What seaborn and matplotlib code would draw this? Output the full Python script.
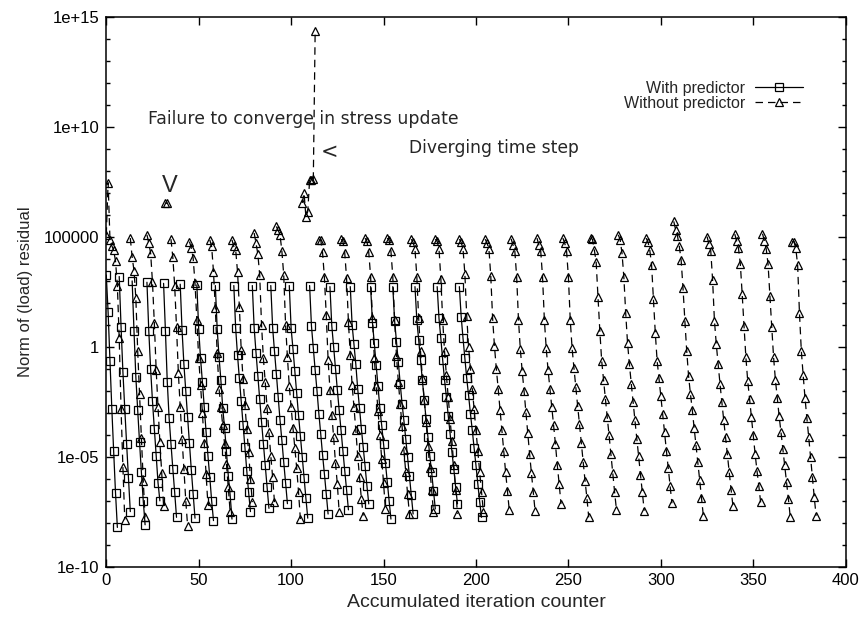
import numpy as np
import pandas as pd
import matplotlib
matplotlib.use("Agg")
import matplotlib.pyplot as plt
import seaborn as sns
from matplotlib.lines import Line2D
from matplotlib.ticker import FixedLocator, NullFormatter

# iteration counter at the start of every time step
with_starts = [0, 7, 14, 22, 31, 40, 49, 59, 69, 79, 89, 99, 110, 121, 132,
               143, 155, 167, 179, 191]
# log10 of the residual norm, one list per time step
with_log10 = [
    [3.27, 1.57, -0.64, -2.81, -4.76, -6.65, -8.22],
    [3.20, 0.91, -1.14, -2.81, -4.41, -5.96, -7.50],
    [3.00, 0.72, -1.37, -2.89, -4.34, -5.71, -7.00, -8.10],
    [2.94, 0.72, -1.02, -2.48, -3.73, -4.95, -6.19, -7.01],
    [2.89, 0.72, -1.60, -3.24, -4.41, -5.55, -6.62, -7.76],
    [2.85, 0.75, -0.80, -2.00, -3.20, -4.40, -5.60, -6.70, -7.80],
    [2.82, 0.81, -0.53, -1.60, -2.74, -3.88, -4.95, -5.94, -7.00, -7.91],
    [2.79, 0.81, -0.46, -1.52, -2.79, -3.68, -4.76, -5.86, -6.74, -7.84],
    [2.79, 0.84, -0.38, -1.44, -2.48, -3.54, -4.57, -5.63, -6.62, -7.50],
    [2.79, 0.87, -0.26, -1.32, -2.39, -3.42, -4.41, -5.40, -6.39, -7.35],
    [2.79, 0.87, -0.20, -1.22, -2.28, -3.35, -4.26, -5.25, -6.19, -7.14],
    [2.79, 0.84, -0.10, -1.10, -2.10, -3.10, -4.05, -5.00, -5.95, -6.90, -7.80],
    [2.79, 0.95, -0.05, -1.06, -2.00, -3.04, -3.95, -4.91, -5.78, -6.69, -7.61],
    [2.74, 0.95, 0.00, -0.99, -1.95, -2.89, -3.80, -4.72, -5.63, -6.51, -7.42],
    [2.74, 0.99, 0.11, -0.80, -1.90, -2.79, -3.73, -4.57, -5.43, -6.32, -7.15],
    [2.74, 1.10, 0.16, -0.84, -1.78, -2.79, -3.58, -4.41, -5.28, -6.13, -7.00, -7.84],
    [2.74, 1.17, 0.23, -0.71, -1.67, -2.58, -3.35, -4.18, -5.02, -5.89, -6.74, -7.61],
    [2.74, 1.22, 0.31, -0.61, -1.52, -2.43, -3.27, -4.11, -4.95, -5.71, -6.54, -7.38],
    [2.74, 1.29, 0.38, -0.61, -1.52, -2.28, -3.14, -3.95, -4.79, -5.55, -6.39, -7.15],
    [2.74, 1.37, 0.38, -0.53, -1.44, -2.21, -3.04, -3.80, -4.61, -5.40, -6.24, -7.05, -7.76],
]

without_starts = [0, 13, 22, 32, 35, 45, 56, 68, 80, 92, 106, 115, 127, 140, 152,
                  165, 178, 191, 205, 219, 233, 247, 262, 277, 292, 307, 325, 340,
                  355, 371]
without_log10 = [
    [5.10, 7.47, 4.87, 4.60, 4.40, 3.90, 2.79, 0.38, -2.84, -5.48, -7.86],
    [4.95, 4.08, 3.47, 2.21, -0.18, -2.16, -4.14, -6.09, -7.76],
    [5.10, 4.72, 4.26, 2.94, 1.07, -1.06, -2.74, -4.34, -5.74, -7.23],
    [6.55, 6.53],
    [4.90, 4.08, 2.79, 0.90, -1.19, -2.74, -4.20, -5.55, -7.00, -8.14],
    [4.79, 4.50, 4.04, 2.90, 1.22, -0.53, -1.75, -3.00, -4.40, -5.80, -7.20],
    [4.87, 4.57, 3.42, 1.75, -0.30, -1.90, -2.74, -3.58, -4.41, -5.32, -6.39, -7.50],
    [4.87, 4.57, 4.42, 3.42, 1.83, -0.15, -1.47, -2.66, -3.73, -4.79, -6.00, -7.07],
    [5.18, 4.72, 4.22, 3.27, 0.99, -0.53, -1.60, -2.79, -3.88, -4.95, -5.94, -7.07],
    [5.48, 5.30, 5.10, 4.35, 3.27, 1.00, -0.47, -1.79, -2.74, -3.70, -4.60, -5.50, -6.60, -7.84],
    [6.55, 7.00, 5.91, 6.16, 7.60, 7.60, 7.62, 14.36],
    [4.87, 4.87, 4.30, 3.16, 1.45, -0.58, -1.95, -3.09, -4.12, -5.29, -6.25, -7.53],
    [4.90, 4.80, 4.29, 3.12, 1.14, -0.38, -1.75, -2.74, -3.80, -4.95, -5.94, -6.92, -7.68],
    [4.95, 4.80, 4.30, 3.20, 1.30, -0.50, -1.80, -2.90, -4.00, -5.10, -6.20, -7.40],
    [4.95, 4.85, 4.35, 3.20, 1.20, -0.40, -1.60, -2.60, -3.60, -4.70, -5.70, -6.70, -7.60],
    [4.90, 4.75, 4.45, 3.20, 1.30, -0.20, -1.40, -2.40, -3.40, -4.50, -5.50, -6.50, -7.50],
    [4.90, 4.80, 4.45, 3.10, 1.20, -0.20, -1.30, -2.30, -3.30, -4.30, -5.40, -6.50, -7.60],
    [4.90, 4.75, 4.45, 3.30, 1.40, 0.00, -1.00, -1.90, -2.85, -3.80, -4.75, -5.70, -6.60, -7.50],
    [4.90, 4.72, 4.45, 3.23, 1.30, 0.03, -0.99, -1.90, -2.86, -3.78, -4.72, -5.68, -6.55, -7.43],
    [4.92, 4.64, 4.38, 3.20, 1.22, -0.12, -1.11, -2.00, -2.97, -3.91, -4.87, -5.75, -6.62, -7.49],
    [4.95, 4.64, 4.38, 3.20, 1.22, -0.07, -1.06, -1.90, -2.74, -3.58, -4.44, -5.40, -6.24, -7.15],
    [4.95, 4.72, 4.38, 3.17, 1.22, -0.07, -0.96, -1.83, -2.69, -3.53, -4.38, -5.25, -6.09, -6.88, -7.76],
    [4.95, 4.90, 4.42, 3.88, 2.28, 0.73, -0.64, -1.49, -2.36, -3.20, -4.03, -4.90, -5.75, -6.62, -7.42],
    [5.10, 4.87, 4.26, 3.17, 1.53, 0.16, -0.79, -1.67, -2.51, -3.35, -4.18, -4.99, -5.83, -6.62, -7.46],
    [4.95, 4.79, 4.42, 3.73, 2.16, 0.64, -0.64, -1.44, -2.25, -3.07, -3.88, -4.72, -5.51, -6.32, -7.12],
    [5.71, 5.33, 5.05, 4.57, 3.93, 2.67, 1.19, -0.18, -1.32, -2.13, -2.86, -3.68, -4.46, -5.26, -6.05, -6.88, -7.69],
    [5.02, 4.69, 4.38, 3.05, 1.19, 0.12, -0.79, -1.67, -2.51, -3.32, -4.11, -4.90, -5.71, -6.50, -7.23],
    [5.13, 4.83, 4.49, 3.78, 2.41, 0.95, -0.46, -1.55, -2.36, -3.20, -4.03, -4.87, -5.63, -6.32, -7.08],
    [5.15, 4.83, 4.46, 3.78, 2.33, 0.91, -0.48, -1.52, -2.33, -3.16, -3.88, -4.64, -5.40, -6.16, -6.92, -7.73],
    [4.79, 4.79, 4.49, 3.73, 1.53, -0.18, -1.29, -2.33, -3.24, -4.11, -5.02, -5.94, -6.85, -7.69],
]

series_names = ["With predictor", "Without predictor"]
y_ticks = [1e-10, 1e-5, 1, 1e5, 1e10, 1e15]
y_ticklabels = ["1e-10", "1e-05", "1", "100000", "1e+10", "1e+15"]
x_ticks = [0, 50, 100, 150, 200, 250, 300, 350, 400]

rows = []
for name, starts, logs in [(series_names[0], with_starts, with_log10),
                           (series_names[1], without_starts, without_log10)]:
    for i, (s, vals) in enumerate(zip(starts, logs)):
        for k, v in enumerate(vals):
            rows.append({"iter": s + k, "resid": 10.0 ** v,
                         "series": name, "step": f"{name}-{i}"})
df = pd.DataFrame(rows)

sns.set_style("ticks")
plt.rcParams["font.family"] = ["Liberation Sans", "DejaVu Sans"]

fig = plt.figure(figsize=(8.64, 6.18), dpi=100)
ax = fig.add_axes([0.123, 0.0833, 0.8558, 0.8887])

dash = (6, 4)
sns.lineplot(
    data=df, x="iter", y="resid", style="series", units="step",
    estimator=None, sort=False, color="black", legend=False,
    markers={"With predictor": "s", "Without predictor": "^"},
    dashes={"With predictor": "", "Without predictor": dash},
    lw=0.9, ms=6, mfc="none", mec="black", mew=0.9, ax=ax,
)

ax.set_yscale("log")
ax.set_xlim(0, 400)
ax.set_ylim(1e-10, 1e15)
ax.set_xticks(x_ticks)
ax.set_xticklabels([str(t) for t in x_ticks])
ax.set_yticks(y_ticks)
ax.set_yticklabels(y_ticklabels)
ax.yaxis.set_minor_locator(FixedLocator([10.0 ** k for k in range(-10, 16)]))
ax.yaxis.set_minor_formatter(NullFormatter())
ax.tick_params(which="both", direction="in", top=True, right=True,
               labelsize=12, colors="black", width=1)
ax.tick_params(which="major", length=6, pad=5)
ax.tick_params(which="minor", length=3)
for sp in ax.spines.values():
    sp.set_linewidth(1.1)
    sp.set_color("black")

ax.set_xlabel("Accumulated iteration counter", fontsize=14, labelpad=4)
ax.set_ylabel("Norm of (load) residual", fontsize=12, labelpad=8)

ax.text(22.7, 10 ** 10.35, "Failure to converge in stress update",
        fontsize=12.4, family="DejaVu Sans", va="center", ha="left")
ax.text(164, 10 ** 9.06, "Diverging time step",
        fontsize=12.3, family="DejaVu Sans", va="center", ha="left")
ax.text(34.5, 10 ** 7.33, "V", fontsize=17, va="center", ha="center")
ax.text(120.9, 10 ** 8.86, "<", fontsize=15, family="DejaVu Sans",
        va="center", ha="center")

handles = [
    Line2D([], [], color="black", lw=0.9, marker="s", ms=6, mfc="none", mew=0.9),
    Line2D([], [], color="black", lw=0.9, ls=(0, dash), marker="^", ms=6,
           mfc="none", mew=0.9),
]
ax.legend(handles, series_names, loc="upper right", bbox_to_anchor=(0.942, 0.884),
          frameon=False, markerfirst=False, handlelength=3.0, fontsize=11.5,
          borderpad=0, borderaxespad=0, handletextpad=0.6, labelspacing=0.0)

fig.savefig("out.png", dpi=100)
